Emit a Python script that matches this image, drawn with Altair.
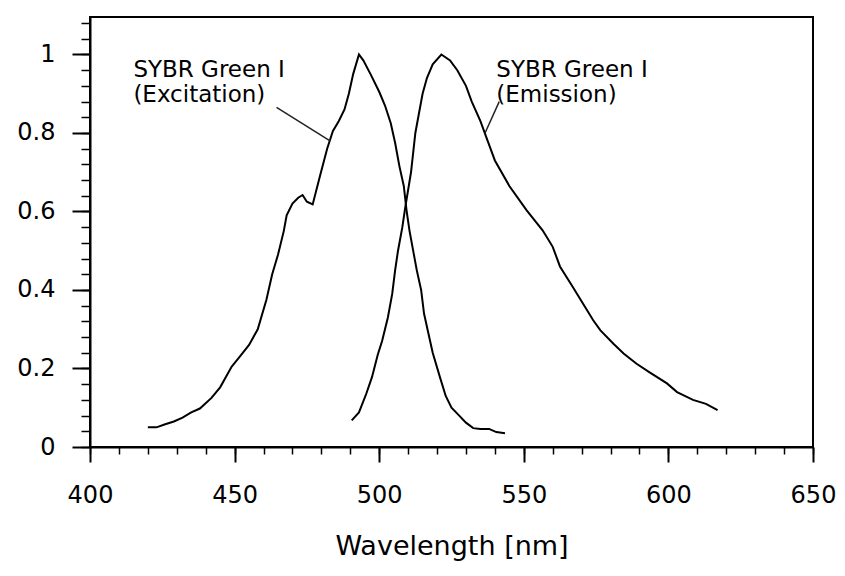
import altair as alt
import pandas as pd

# ---- data ----
exc_nm = [420, 423, 426, 429, 432, 435, 438, 442, 445, 449, 452, 455, 458, 461, 463, 465,
          467, 468, 470, 472, 473.5, 475, 477, 479.5, 482, 484, 486, 488, 489.5, 491, 493,
          494.5, 497, 500, 502, 504, 505.5, 507, 508.5, 509.5, 510.5, 512, 513, 514.5, 515.5,
          517, 518.5, 521, 523, 525, 527, 530, 532.5, 535, 538, 540.5, 543.5]
exc_val = [0.05, 0.05, 0.058, 0.065, 0.075, 0.088, 0.098, 0.125, 0.152, 0.205, 0.232, 0.26,
           0.3, 0.375, 0.44, 0.49, 0.55, 0.59, 0.62, 0.635, 0.642, 0.625, 0.618, 0.69, 0.76,
           0.805, 0.83, 0.86, 0.9, 0.95, 1.0, 0.985, 0.95, 0.905, 0.87, 0.825, 0.775, 0.715,
           0.665, 0.6, 0.55, 0.49, 0.45, 0.4, 0.34, 0.29, 0.24, 0.178, 0.13, 0.1, 0.085,
           0.062, 0.048, 0.046, 0.046, 0.038, 0.035]

em_nm = [490.5, 493, 495.5, 497.5, 499.5, 501, 503, 504.5, 505.5, 506.5, 508, 509, 511,
         512.5, 513.5, 515, 516.5, 518.5, 521.5, 524.5, 527, 530, 532, 535, 537.5, 540, 545,
         551, 556.5, 560, 562.5, 567, 570.5, 574, 576.5, 581, 584.5, 589, 593.5, 599.5, 603,
         608.5, 613, 617]
em_val = [0.068, 0.088, 0.135, 0.178, 0.235, 0.27, 0.33, 0.39, 0.45, 0.5, 0.56, 0.61, 0.7,
          0.8, 0.84, 0.9, 0.94, 0.975, 1.0, 0.985, 0.96, 0.92, 0.88, 0.83, 0.78, 0.73, 0.665,
          0.603, 0.552, 0.51, 0.46, 0.407, 0.365, 0.323, 0.297, 0.263, 0.238, 0.212, 0.19,
          0.162, 0.14, 0.12, 0.11, 0.094]

x_major = [400, 450, 500, 550, 600, 650]
x_minor = [400, 410, 420, 430, 440, 450, 460, 470, 480, 490, 500, 510, 520, 530, 540, 550,
           560, 570, 580, 590, 600, 610, 620, 630, 640, 650]
y_major = [0, 0.2, 0.4, 0.6, 0.8, 1.0]
y_minor = [0, 0.04, 0.08, 0.12, 0.16, 0.2, 0.24, 0.28, 0.32, 0.36, 0.4, 0.44, 0.48, 0.52,
           0.56, 0.6, 0.64, 0.68, 0.72, 0.76, 0.8, 0.84, 0.88, 0.92, 0.96, 1.0, 1.04, 1.08]

ann_text = ["SYBR Green I\n(Excitation)", "SYBR Green I\n(Emission)"]
ann_nm = [415, 540.5]
ann_val = [0.942, 0.942]

leader_id = ["exc", "exc", "em", "em"]
leader_nm = [464.5, 483, 536.6, 541.5]
leader_val = [0.865, 0.78, 0.80, 0.88]

# ---- tables ----
curve_df = pd.DataFrame({
    "nm": exc_nm + em_nm,
    "val": exc_val + em_val,
    "series": ["Excitation"] * len(exc_nm) + ["Emission"] * len(em_nm),
})
ann_df = pd.DataFrame({"nm": ann_nm, "val": ann_val, "label": ann_text})
leader_df = pd.DataFrame({"nm": leader_nm, "val": leader_val, "id": leader_id})

FONT = "DejaVu Sans"
xscale = alt.Scale(domain=[400, 650], nice=False, zero=False)
yscale = alt.Scale(domain=[0, 1.0955], nice=False, zero=True)

curves = alt.Chart(curve_df).mark_line(color="black", strokeWidth=2).encode(
    x=alt.X("nm:Q", scale=xscale, axis=alt.Axis(
        orient="bottom", values=x_major, format="d", tickSize=15, tickWidth=2,
        tickColor="black", domainColor="black", domainWidth=2, grid=False,
        labelFont=FONT, labelFontSize=24, labelColor="black", labelPadding=21,
        labelFlush=False, labelOverlap=False,
        title="Wavelength [nm]", titleFont=FONT, titleFontSize=27,
        titleFontWeight="normal", titleColor="black", titlePadding=26)),
    y=alt.Y("val:Q", scale=yscale, axis=alt.Axis(
        orient="left", values=y_major, format="~g", tickSize=18, tickWidth=2,
        tickColor="black", domainColor="black", domainWidth=2, grid=False,
        labelFont=FONT, labelFontSize=24, labelColor="black", labelPadding=17,
        labelFlush=False, labelOverlap=False, title=None)),
    detail="series:N",
)

leaders = alt.Chart(leader_df).mark_line(color="#222222", strokeWidth=1.5).encode(
    x=alt.X("nm:Q", scale=xscale, axis=alt.Axis(
        orient="bottom", values=x_minor, tickSize=7, tickWidth=1.5, tickColor="black",
        labels=False, domain=False, grid=False, title=None)),
    y=alt.Y("val:Q", scale=yscale, axis=alt.Axis(
        orient="left", values=y_minor, tickSize=9, tickWidth=1.5, tickColor="black",
        labels=False, domain=False, grid=False, title=None)),
    detail="id:N",
)

texts = alt.Chart(ann_df).mark_text(
    align="left", baseline="alphabetic", font=FONT, fontSize=23, color="black",
    lineBreak="\n", lineHeight=25,
).encode(
    x=alt.X("nm:Q", scale=xscale, axis=None),
    y=alt.Y("val:Q", scale=yscale, axis=None),
    text="label:N",
)

chart = alt.layer(curves, leaders, texts).resolve_axis(
    x="independent", y="independent"
).properties(
    width=723, height=430,
    autosize=alt.AutoSizeParams(type="none"),
    padding={"left": 82, "top": 9, "right": 24, "bottom": 117},
    background="white",
).configure_view(stroke="black", strokeWidth=2)

chart.save("out.html", embed_options={"renderer": "svg", "actions": False})
